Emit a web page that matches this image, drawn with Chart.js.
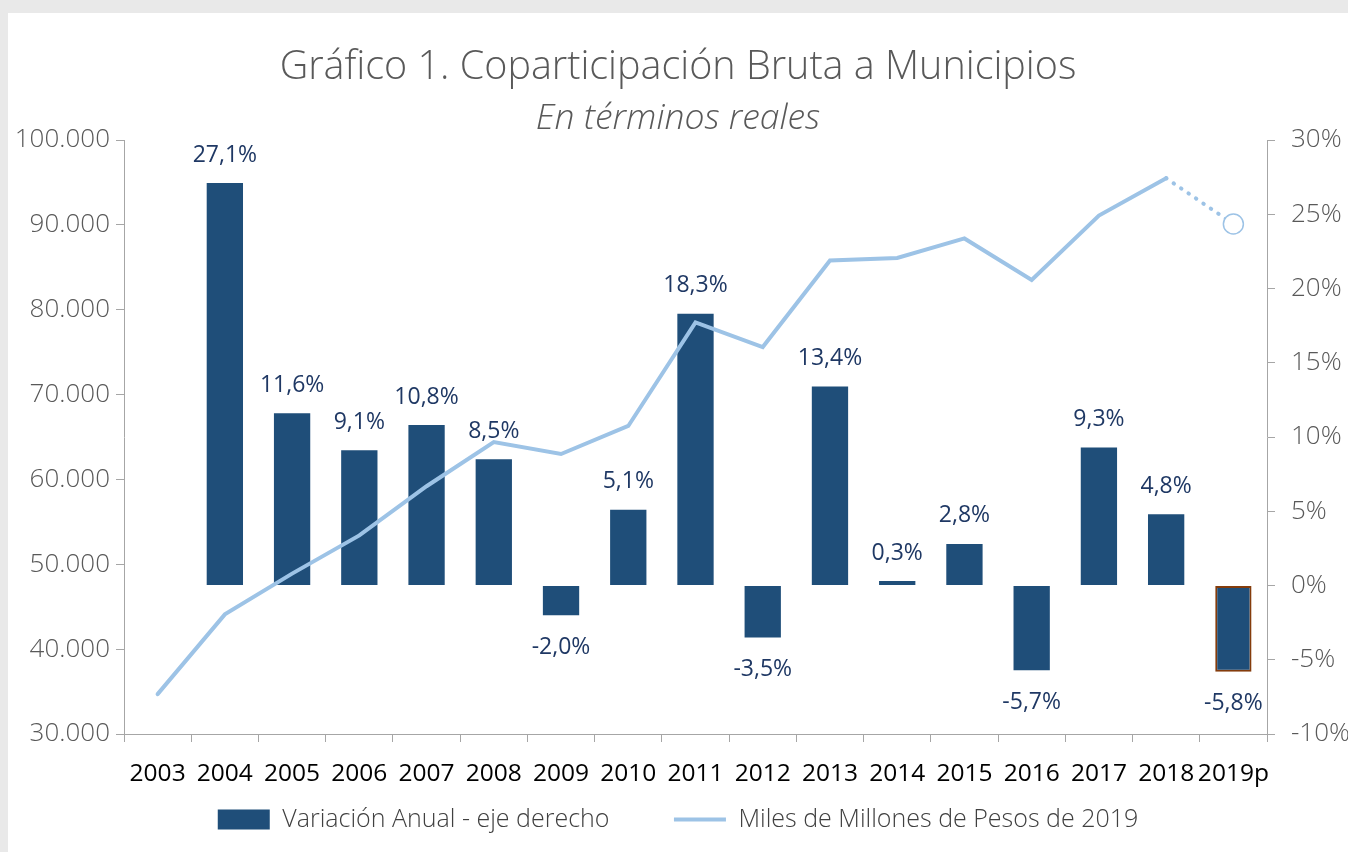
<!DOCTYPE html>
<html>
<head>
<meta charset="utf-8">
<script src="https://cdn.jsdelivr.net/npm/chart.js@4.4.0/dist/chart.umd.min.js"></script>
<style>
  html, body { margin: 0; padding: 0; background: #e9e9e9; }
  #marco { position: absolute; left: 8px; top: 13px; width: 1340px; height: 839px; background: #ffffff; }
</style>
</head>
<body>
<div id="marco"><canvas id="grafico"></canvas></div>
<script>
const years = ['2003', '2004', '2005', '2006', '2007', '2008', '2009', '2010', '2011', '2012', '2013', '2014', '2015', '2016', '2017', '2018', '2019p'];
const variacionAnual = [null, 27.1, 11.6, 9.1, 10.8, 8.5, -2.0, 5.1, 18.3, -3.5, 13.4, 0.3, 2.8, -5.7, 9.3, 4.8, -5.8];
const milesMillones = [34700, 44100, 48900, 53400, 59200, 64400, 63000, 66300, 78500, 75600, 85800, 86100, 88400, 83500, 91100, 95500, 90100];

const azulOscuro = '#1f4e79';
const azulClaro = '#9dc3e6';
const ejeColor = '#a6a6a6';
const last = milesMillones.length - 1;

Chart.defaults.font.family = "'Open Sans', sans-serif";

// etiquetas de la variacion anual sobre / bajo cada barra
const etiquetas = {
    id: 'etiquetas',
    afterDatasetsDraw(chart) {
        const ctx = chart.ctx;
        const meta = chart.getDatasetMeta(0);
        ctx.save();
        ctx.font = "23px 'Open Sans', sans-serif";
        ctx.fillStyle = '#1f3864';
        ctx.textAlign = 'center';
        ctx.textBaseline = 'middle';
        meta.data.forEach((bar, i) => {
            const v = variacionAnual[i];
            if (v === null) return;
            const y = v >= 0 ? bar.y - 28 : bar.y + 32;
            ctx.fillText(v.toFixed(1).replace('.', ',') + '%', bar.x, y);
        });
        ctx.restore();
    }
};

const ctx = document.getElementById('grafico').getContext('2d');

const chart = new Chart(ctx, {
    type: 'bar',
    data: {
        labels: years,
        datasets: [{
            type: 'bar',
            label: 'Variación Anual - eje derecho',
            data: variacionAnual,
            yAxisID: 'y2',
            backgroundColor: azulOscuro,
            borderColor: variacionAnual.map((_, i) => i === last ? '#843c0c' : azulOscuro),
            borderWidth: variacionAnual.map((_, i) => i === last ? 2 : 0),
            borderSkipped: false,
            barPercentage: 0.54,
            categoryPercentage: 1,
            order: 1
        }, {
            type: 'line',
            label: 'Miles de Millones de Pesos de 2019',
            data: milesMillones,
            yAxisID: 'y',
            borderColor: azulClaro,
            borderWidth: 4,
            borderCapStyle: 'round',
            tension: 0,
            pointRadius: milesMillones.map((_, i) => i === last ? 10 : 0),
            pointBackgroundColor: '#ffffff',
            pointBorderColor: azulClaro,
            pointBorderWidth: 1.5,
            segment: {
                borderDash: c => c.p1DataIndex === last ? [0.5, 8.5] : undefined
            },
            order: 0
        }]
    },
    options: {
        responsive: true,
        maintainAspectRatio: false,
        animation: false,
        layout: { padding: { bottom: 10 } },
        plugins: {
            title: {
                display: true,
                text: 'Gráfico 1. Coparticipación Bruta a Municipios',
                color: '#595959',
                font: { size: 39.5, weight: 300 },
                padding: { top: 31, bottom: 6 }
            },
            subtitle: {
                display: true,
                text: 'En términos reales',
                color: '#595959',
                font: { size: 35.5, style: 'italic', weight: 300 },
                padding: { top: 0, bottom: 0 }
            },
            legend: {
                position: 'bottom',
                labels: {
                    usePointStyle: true,
                    pointStyleWidth: 52,
                    boxHeight: 20,
                    padding: 0,
                    color: '#404040',
                    font: { size: 25, weight: 300 },
                    // el elemento vacio del medio solo separa las dos entradas
                    generateLabels: () => [{
                        text: 'Variación Anual - eje derecho',
                        fillStyle: azulOscuro,
                        strokeStyle: azulOscuro,
                        lineWidth: 0,
                        pointStyle: 'rect',
                        fontColor: '#404040',
                        datasetIndex: 0,
                        hidden: false
                    }, {
                        text: '',
                        fillStyle: 'rgba(0,0,0,0)',
                        strokeStyle: 'rgba(0,0,0,0)',
                        lineWidth: 0,
                        pointStyle: 'rect',
                        hidden: false
                    }, {
                        text: 'Miles de Millones de Pesos de 2019',
                        fillStyle: azulClaro,
                        strokeStyle: azulClaro,
                        lineWidth: 4,
                        pointStyle: 'line',
                        fontColor: '#404040',
                        datasetIndex: 1,
                        hidden: false
                    }]
                }
            },
            tooltip: { enabled: false }
        },
        scales: {
            x: {
                grid: { display: true, drawOnChartArea: false, drawTicks: true, tickLength: 8, color: ejeColor, offset: true },
                border: { color: ejeColor },
                ticks: { color: '#000000', font: { size: 24.5 }, padding: 17, maxRotation: 0, autoSkip: false },
                afterFit: s => { s.height = 73; }
            },
            y: {
                position: 'left',
                min: 30000,
                max: 100000,
                grid: { drawOnChartArea: false, tickLength: 8, color: ejeColor },
                border: { color: ejeColor },
                ticks: {
                    stepSize: 10000,
                    color: '#595959',
                    font: { size: 26, weight: 300 },
                    padding: 6,
                    callback: v => String(v).replace(/\B(?=(\d{3})+(?!\d))/g, '.')
                },
                afterFit: s => { s.width = 116; }
            },
            y2: {
                position: 'right',
                min: -10,
                max: 30,
                grid: { drawOnChartArea: false, tickLength: 8, color: ejeColor },
                border: { color: ejeColor },
                ticks: {
                    stepSize: 5,
                    color: '#595959',
                    font: { size: 26, weight: 300 },
                    padding: 16,
                    callback: v => v + '%'
                },
                afterFit: s => { s.width = 81; }
            }
        }
    },
    plugins: [etiquetas]
});
</script>
</body>
</html>
